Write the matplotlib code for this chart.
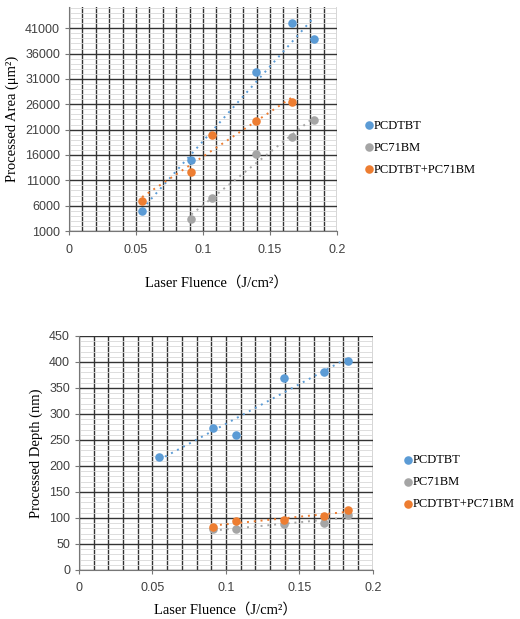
import numpy as np
import matplotlib.pyplot as plt
from matplotlib.ticker import MultipleLocator

# 레이저 플루언스 (J/cm2)
fluence = [0.0545, 0.0913, 0.1067, 0.1396, 0.1667, 0.183]

# 가공 면적 (um2)
area_x_pcdtbt = [0.0545, 0.0913, 0.1396, 0.1667, 0.183]
area_pcdtbt = [4950, 15080, 32380, 42100, 38960]
area_x_pc71bm = [0.0913, 0.1067, 0.1396, 0.1667, 0.183]
area_pc71bm = [3430, 7580, 16200, 19550, 22900]
area_x_blend = [0.0545, 0.0913, 0.1067, 0.1396, 0.1667]
area_blend = [6990, 12700, 20010, 22700, 26400]

# 가공 깊이 (nm)
depth_x_pcdtbt = fluence
depth_pcdtbt = [217, 274, 260, 369, 381, 402]
depth_x_pc71bm = [0.0913, 0.1067, 0.1396, 0.1667, 0.183]
depth_pc71bm = [78, 79, 88, 91, 106]
depth_x_blend = [0.0913, 0.1067, 0.1396, 0.1667, 0.183]
depth_blend = [83, 95, 97, 104, 115]

labels = ["PCDTBT", "PC71BM", "PCDTBT+PC71BM"]
colors = ["#5B9BD5", "#A5A5A5", "#ED7D31"]

serif = ["Liberation Serif", "Noto Sans CJK JP", "DejaVu Sans"]
plt.rcParams["font.family"] = ["Liberation Sans", "DejaVu Sans"]

fig = plt.figure(figsize=(5.2, 6.19), dpi=100)
ax1 = fig.add_axes([0.1327, 0.6268, 0.5154, 0.362])
ax2 = fig.add_axes([0.152, 0.0792, 0.565, 0.378])


def draw(ax, series, ylim, ymajor, yminor):
    for (xs, ys), lab, c in zip(series, labels, colors):
        ax.scatter(xs, ys, s=38, color=c, label=lab, zorder=4, linewidths=0)
        p = np.polyfit(xs, ys, 1)
        xx = np.array([min(xs), max(xs)])
        ax.plot(xx, np.polyval(p, xx), ls=(0, (1, 2.5)), color=c, lw=1.4, zorder=3)
    ax.set_xlim(0, 0.2)
    ax.set_ylim(*ylim)
    ax.xaxis.set_major_locator(MultipleLocator(0.05))
    ax.xaxis.set_minor_locator(MultipleLocator(0.01))
    ax.yaxis.set_major_locator(MultipleLocator(ymajor))
    ax.yaxis.set_minor_locator(MultipleLocator(yminor))
    ax.grid(which="minor", axis="y", color="#d8d8d8", lw=0.6)
    ax.grid(which="major", axis="y", color="#333333", lw=1.0)
    ax.grid(which="both", axis="x", color="#333333", lw=1.0)
    ax.set_axisbelow(True)
    for s in ["top", "right"]:
        ax.spines[s].set_visible(False)
    ax.spines["left"].set_color("#777777")
    ax.spines["bottom"].set_color("#777777")
    ax.tick_params(which="minor", length=0)
    ax.tick_params(which="major", length=3, color="#777777", labelsize=9,
                   labelcolor="#404040")
    ax.tick_params(axis="x", pad=6)
    ax.set_xticks([0, 0.05, 0.1, 0.15, 0.2])
    ax.set_xticklabels(["0", "0.05", "0.1", "0.15", "0.2"])


draw(ax1, [(area_x_pcdtbt, area_pcdtbt), (area_x_pc71bm, area_pc71bm),
           (area_x_blend, area_blend)], (1000, 45200), 5000, 1000)
ax1.set_yticks(np.arange(1000, 45000, 5000))
ax1.set_ylabel("Processed Area (μm²)", family=serif, fontsize=10.5)
ax1.set_xlabel("Laser Fluence（J/cm²）", family=serif, fontsize=10.5, labelpad=14)
ax1.xaxis.set_label_coords(0.55, -0.2)

draw(ax2, [(depth_x_pcdtbt, depth_pcdtbt), (depth_x_pc71bm, depth_pc71bm),
           (depth_x_blend, depth_blend)], (0, 450), 50, 10)
ax2.set_ylabel("Processed Depth (nm)", family=serif, fontsize=10.5)
ax2.set_xlabel("Laser Fluence（J/cm²）", family=serif, fontsize=10.5, labelpad=6)

for ax, anchor in [(ax1, (0.68, 0.825)), (ax2, (0.755, 0.285))]:
    fig.legend(*ax.get_legend_handles_labels(), loc="upper left",
               bbox_to_anchor=anchor, frameon=False, handlelength=0.6,
               handletextpad=0.1, labelspacing=0.8,
               prop={"family": serif, "size": 9}, markerscale=1.0)

plt.savefig("out.png", dpi=100)
